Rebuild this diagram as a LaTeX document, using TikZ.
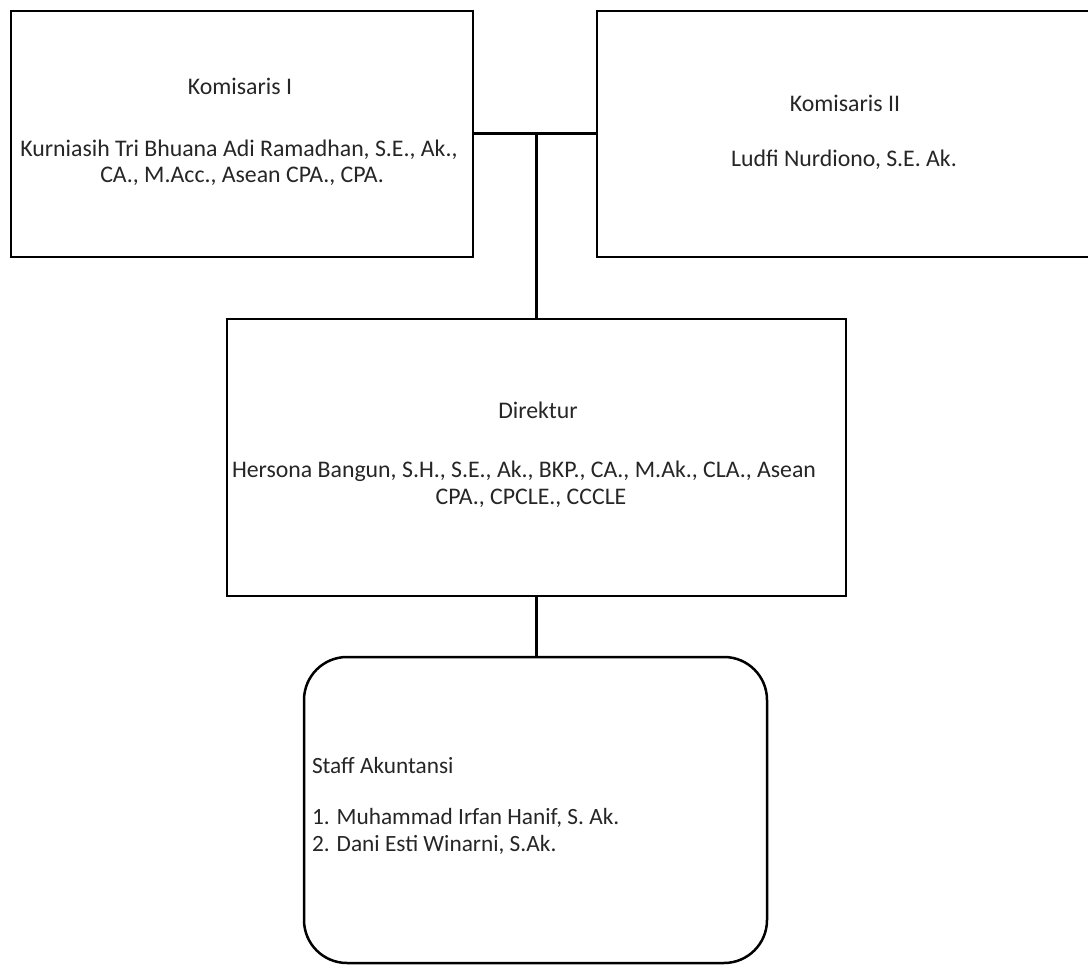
\documentclass[tikz,border=0pt]{standalone}
\usepackage{fontspec}
\setmainfont{Carlito}
\begin{document}
\begin{tikzpicture}[x=1pt,y=-1pt,
  box/.style={draw=black, line width=2.5pt, fill=white, inner sep=0pt, outer sep=0pt, rectangle},
  conn/.style={draw=black, line width=3pt},
  txt/.style={anchor=base, inner sep=0pt, outer sep=0pt, text=black!85, font=\fontsize{23.8}{28}\selectfont},
  stafftxt/.style={txt, anchor=base west, font=\fontsize{23.3}{28}\selectfont}]
\useasboundingbox (0,0) rectangle (1088,965);
\clip (0,0) rectangle (1088,965);
\fill[white] (0,0) rectangle (1088,965);
% boxes
\node[box, anchor=north west, minimum width=462pt, minimum height=246pt] (k1) at (11,11) {};
\node[box, anchor=north west, minimum width=503pt, minimum height=246pt] (k2) at (597,11) {};
\node[box, anchor=north west, minimum width=619pt, minimum height=277pt] (dir) at (227,319) {};
\node[box, anchor=north west, minimum width=463pt, minimum height=306pt, rounded corners=43pt] (staff) at (304,657) {};
% connectors
\draw[conn] (k1.east) -- (k2.west);
\draw[conn] (dir.north) -- (dir.north |- k1.east);
\draw[conn] (dir.south) -- (dir.south |- staff.north);
% texts
\node[txt] (k1a) at (240,95) {Komisaris I};
\node[txt] (k1b) at (239,157) {Kurniasih Tri Bhuana Adi Ramadhan, S.E., Ak.,};
\node[txt] (k1c) at (242,183) {CA., M.Acc., Asean CPA., CPA.};
\node[txt] (k2a) at (845,112) {Komisaris II};
\node[txt] (k2b) at (844,167) {Ludfi Nurdiono, S.E. Ak.};
\node[txt] (da) at (538,419) {Direktur};
\node[txt] (db) at (524,478) {Hersona Bangun, S.H., S.E., Ak., BKP., CA., M.Ak., CLA., Asean};
\node[txt] (dc) at (531,505) {CPA., CPCLE., CCCLE};
\node[stafftxt] (sa) at (312,773) {Staff Akuntansi};
\node[stafftxt] (sb) at (312,824) {1. Muhammad Irfan Hanif, S. Ak.};
\node[stafftxt] (sc) at (312,851) {2. Dani Esti Winarni, S.Ak.};
\end{tikzpicture}
\end{document}
